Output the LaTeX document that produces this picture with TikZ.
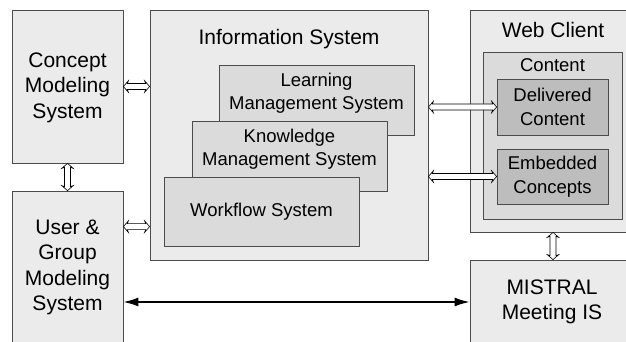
\documentclass[tikz,border=0pt]{standalone}
\usepackage{fontspec}
\setmainfont{Liberation Sans}
\usetikzlibrary{arrows.meta,calc}
\begin{document}
\begin{tikzpicture}[x=1pt,y=-1pt,
  box/.style={draw=black!70, line width=0.8pt, inner sep=0pt, rectangle},
  outerbox/.style={box, fill=black!8},
  innerbox/.style={box, fill=black!14},
  darkbox/.style={box, fill=black!26},
  bigtxt/.style={font=\fontsize{21}{25.5}\selectfont, align=center, inner sep=0pt},
  smalltxt/.style={font=\fontsize{18.5}{23.5}\selectfont, align=center, inner sep=0pt},
  hollow/.style={draw=black, fill=white, line width=0.6pt, line join=miter,
    to path={
      -- ($($(\tikztostart)!5pt!(\tikztotarget)$)!5.8pt!-90:(\tikztotarget)$)
      -- ($($(\tikztostart)!4pt!(\tikztotarget)$)!3pt!-90:(\tikztotarget)$)
      -- ($($(\tikztotarget)!4pt!(\tikztostart)$)!3pt!90:(\tikztostart)$)
      -- ($($(\tikztotarget)!5pt!(\tikztostart)$)!5.8pt!90:(\tikztostart)$)
      -- (\tikztotarget)
      -- ($($(\tikztotarget)!5pt!(\tikztostart)$)!5.8pt!-90:(\tikztostart)$)
      -- ($($(\tikztotarget)!4pt!(\tikztostart)$)!3pt!-90:(\tikztostart)$)
      -- ($($(\tikztostart)!4pt!(\tikztotarget)$)!3pt!90:(\tikztotarget)$)
      -- ($($(\tikztostart)!5pt!(\tikztotarget)$)!5.8pt!90:(\tikztotarget)$)
      -- cycle}},
  solid arrow/.style={draw=black, line width=1.5pt, {Latex[length=15pt,width=9pt]}-{Latex[length=15pt,width=9pt]}}
]
\useasboundingbox (0,0) rectangle (626,342);
\fill[white] (0,0) rectangle (626,342);

% left column
\node[outerbox, minimum width=111pt, minimum height=153pt] (concept) at (67.5,86.5) {};
\node[bigtxt] (concepttxt) at (67.5,87.5) {Concept\\Modeling\\System};
\node[outerbox, minimum width=111pt, minimum height=153pt] (user) at (67.5,267.5) {};
\node[bigtxt] (usertxt) at (67.5,267.5) {User \&\\Group\\Modeling\\System};

% information system
\node[outerbox, minimum width=278pt, minimum height=250pt] (info) at (289,135) {};
\node[bigtxt, anchor=base] (infotitle) at (289,45) {Information System};
\node[innerbox, minimum width=195pt, minimum height=70pt] (lms) at (316.5,100) {};
\node[smalltxt] (lmstxt) at (316.5,93) {Learning\\Management System};
\node[innerbox, minimum width=195pt, minimum height=70pt] (kms) at (289.5,156) {};
\node[smalltxt] (kmstxt) at (289.5,149) {Knowledge\\Management System};
\node[innerbox, minimum width=195pt, minimum height=69pt] (wfs) at (261.5,211.5) {};
\node[smalltxt] (wfstxt) at (261.5,211.5) {Workflow System};

% web client
\node[outerbox, minimum width=166pt, minimum height=222pt] (web) at (553,121) {};
\node[bigtxt, anchor=base] (webtitle) at (553,38) {Web Client};
\node[innerbox, minimum width=139pt, minimum height=167pt] (content) at (552.5,135.5) {};
\node[smalltxt, anchor=base] (contenttitle) at (552.5,72) {Content};
\node[darkbox, minimum width=111pt, minimum height=56pt] (deliv) at (552.5,107) {};
\node[smalltxt] (delivtxt) at (552.5,107) {Delivered\\Content};
\node[darkbox, minimum width=111pt, minimum height=55pt] (embed) at (552.5,176.5) {};
\node[smalltxt] (embedtxt) at (552.5,176.5) {Embedded\\Concepts};

% MISTRAL
\node[outerbox, minimum width=166pt, minimum height=84pt] (mistral) at (553,302) {};
\node[bigtxt] (mistraltxt) at (552,302) {MISTRAL\\Meeting IS};

% connector end points
\coordinate (ciR) at (concept.east -| info.west);
\coordinate (uaL) at ($(user.north east)+(0,36)$);
\coordinate (uaR) at (uaL -| info.west);
\coordinate (dL) at (deliv.west -| info.east);
\coordinate (eL) at (embed.west -| info.east);
\coordinate (muL) at (user.east |- mistral.west);

% connectors
\draw[hollow] (concept.east) to (ciR);
\draw[hollow] (uaL) to (uaR);
\draw[hollow] (concept.south) to (user.north);
\draw[hollow] (dL) to (deliv.west);
\draw[hollow] (eL) to (embed.west);
\draw[hollow] (web.south) to (mistral.north);
\draw[solid arrow] (muL) -- (mistral.west);
\end{tikzpicture}
\end{document}
